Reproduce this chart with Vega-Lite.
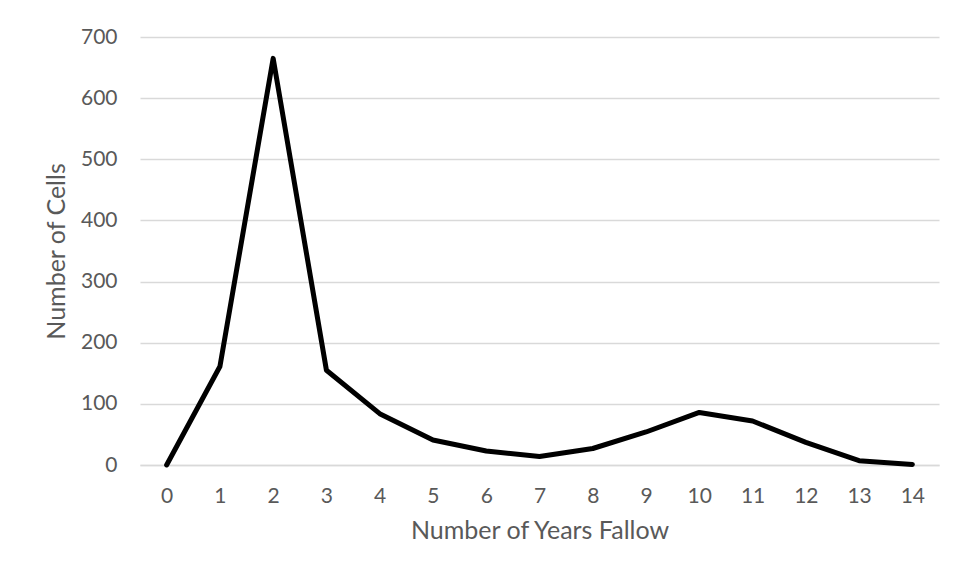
{
  "$schema": "https://vega.github.io/schema/vega-lite/v6.json",
  "autosize": {"type": "none"},
  "width": 799,
  "height": 428,
  "padding": {"left": 140, "top": 37, "right": 18, "bottom": 116},
  "background": "white",
  "config": {
    "view": {"stroke": null},
    "font": "Lato",
    "axis": {
      "labelFont": "Lato",
      "titleFont": "Lato",
      "labelColor": "#595959",
      "titleColor": "#595959",
      "labelFontSize": 21,
      "titleFontSize": 25,
      "titleFontWeight": "normal",
      "gridColor": "#d9d9d9",
      "gridWidth": 1.5,
      "ticks": false,
      "domain": false
    }
  },
  "data": {
    "values": [
      {"years": 0, "cells": 0},
      {"years": 1, "cells": 161},
      {"years": 2, "cells": 665},
      {"years": 3, "cells": 155},
      {"years": 4, "cells": 84},
      {"years": 5, "cells": 41},
      {"years": 6, "cells": 23},
      {"years": 7, "cells": 14},
      {"years": 8, "cells": 27},
      {"years": 9, "cells": 54},
      {"years": 10, "cells": 86},
      {"years": 11, "cells": 72},
      {"years": 12, "cells": 37},
      {"years": 13, "cells": 7},
      {"years": 14, "cells": 1}
    ]
  },
  "mark": {"type": "line", "color": "black", "strokeWidth": 5, "strokeJoin": "round", "strokeCap": "round"},
  "encoding": {
    "x": {
      "field": "years",
      "type": "ordinal",
      "scale": {"type": "point", "padding": 0.5},
      "axis": {"title": "Number of Years Fallow", "labelAngle": 0, "grid": false, "labelPadding": 20, "titlePadding": 12, "domain": true, "domainColor": "#d9d9d9", "domainWidth": 1.5}
    },
    "y": {
      "field": "cells",
      "type": "quantitative",
      "scale": {"domain": [0, 700], "nice": false},
      "axis": {"title": "Number of Cells", "values": [0, 100, 200, 300, 400, 500, 600, 700], "labelPadding": 23, "titlePadding": 11}
    }
  }
}
